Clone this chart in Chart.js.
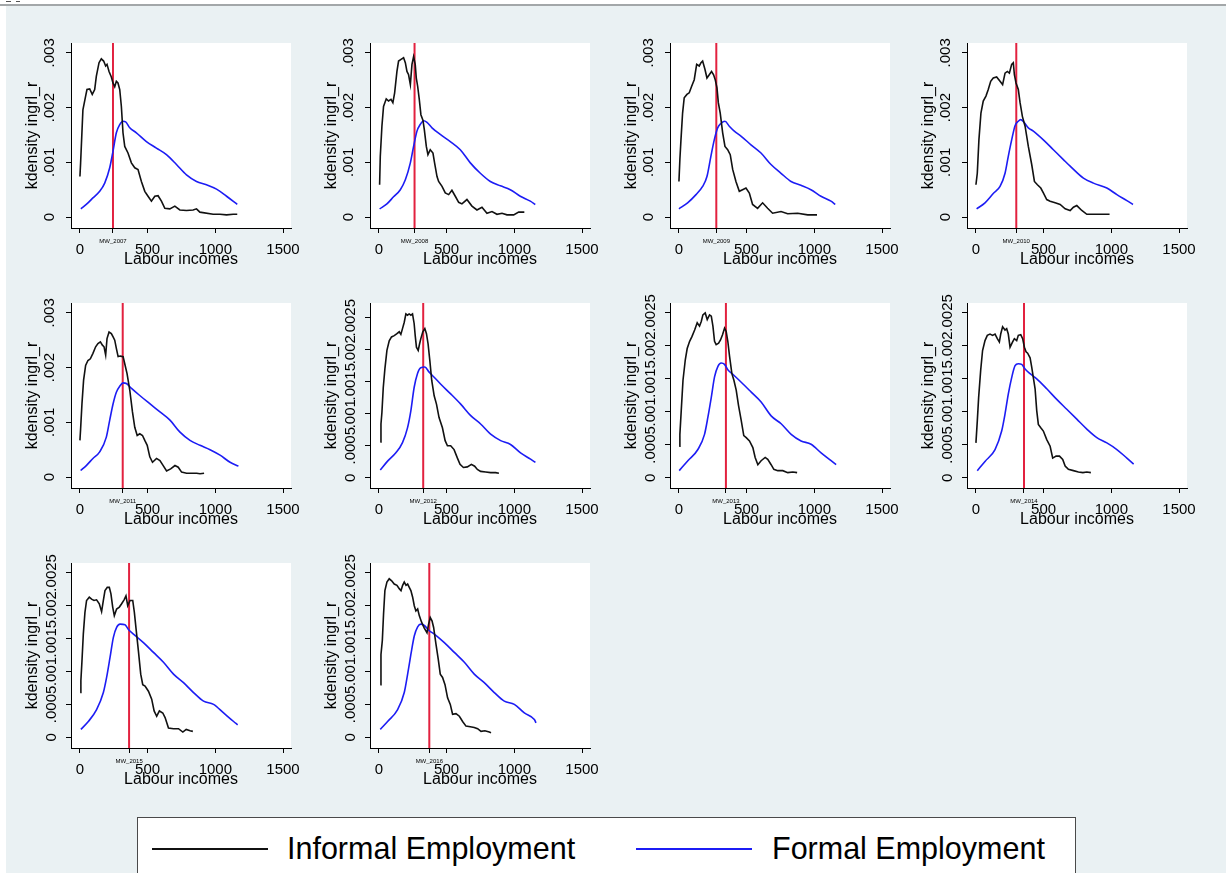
<!DOCTYPE html>
<html>
<head>
<meta charset="utf-8">
<title>Labour income densities by year</title>
<script src="https://cdn.jsdelivr.net/npm/chart.js@4.4.1/dist/chart.umd.min.js"></script>
<style>
  html, body { margin: 0; padding: 0; width: 1226px; height: 873px; overflow: hidden; background: #ffffff; }
  body { position: relative; font-family: "Liberation Sans", Arial, sans-serif; }
  #sheet { position: absolute; left: 6px; top: 6px; width: 1220px; height: 867px; background: #eaf1f3; }
  #rule { position: absolute; left: 0; top: 4px; width: 1226px; height: 2px; background: #a3a7a9; }
  .nick { position: absolute; top: 1px; height: 1px; background: #555; }
  .panel { position: absolute; }
  .panel canvas { display: block; }
  #legend { position: absolute; left: 137px; top: 817px; width: 937px; height: 80px; background: #ffffff; border: 1px solid #4a4a4a; }
  .key { position: absolute; top: 30px; width: 116px; height: 1.5px; }
  .keytext { position: absolute; top: 15px; font-size: 30.5px; line-height: 30px; color: #000; white-space: nowrap; }
</style>
</head>
<body>
<div id="sheet"></div>
<div id="rule"></div>
<div class="nick" style="left:6px;width:5px"></div>
<div class="nick" style="left:16px;width:4px"></div>
<div id="legend">
  <div class="key" style="left:14px;background:#111"></div>
  <div class="keytext" style="left:149px">Informal Employment</div>
  <div class="key" style="left:498px;background:#1c1cf4"></div>
  <div class="keytext" style="left:634px">Formal Employment</div>
</div>
<script>
// ---- survey years and minimum wage reference (real terms) ----
const years = ["2007", "2008", "2009", "2010", "2011", "2012", "2013", "2014", "2015", "2016"];
const minWage = [244, 263, 276, 298, 316, 327, 347, 355, 363, 372];

// ---- axis ticks ----
const xTickValues = [0, 500, 1000, 1500];
const xTickLabels = ["0", "500", "1000", "1500"];
const yTickValuesCoarse = [0, 0.001, 0.002, 0.003];
const yTickLabelsCoarse = ["0", ".001", ".002", ".003"];
const yTickValuesFine = [0, 0.0005, 0.001, 0.0015, 0.002, 0.0025];
const yTickLabelsFine = ["0", ".0005", ".001", ".0015", ".002", ".0025"];

// ---- kernel density estimates, [income, density] ----
const informal2007 = [[0,.00074],[5,.00099],[22,.00196],[42,.00221],[52,.00233],[72,.00234],[91,.00224],[109,.00233],[121,.00257],[141,.00282],[158,.00289],[175,.00285],[190,.00276],[200,.00279],[215,.00266],[232,.00256],[244,.00245],[257,.00238],[269,.00248],[281,.00245],[294,.00233],[306,.00202],[318,.00154],[331,.00129],[355,.00117],[380,.00099],[405,.0009],[429,.00087],[454,.00065],[479,.00047],[503,.00038],[528,.00029],[553,.00038],[577,.00039],[602,.00029],[627,.00016],[664,.00015],[701,.0002],[738,.00013],[787,.00012],[836,.00013],[861,.00015],[886,.00009],[984,.00005],[1034,.00005],[1083,.00004],[1132,.00005],[1162,.00005]];
const formal2007 = [[7,.00015],[47,.00023],[96,.00035],[146,.00047],[183,.00062],[220,.0009],[244,.0012],[269,.00154],[294,.00169],[318,.00175],[338,.00174],[368,.00163],[417,.00154],[491,.00138],[565,.00126],[639,.00114],[713,.00096],[787,.00077],[861,.00065],[935,.00059],[1009,.00051],[1083,.00038],[1162,.00023]];

const informal2008 = [[5,.00059],[10,.00111],[22,.00166],[34,.00202],[54,.00216],[71,.00212],[89,.00215],[103,.00209],[116,.00227],[133,.00266],[145,.00285],[163,.00288],[182,.00291],[195,.00282],[207,.00266],[219,.0026],[232,.00242],[244,.00279],[256,.00293],[268,.00279],[276,.00254],[286,.00239],[298,.00215],[310,.00187],[325,.00177],[335,.0016],[350,.00129],[362,.00114],[379,.00123],[399,.00117],[411,.00099],[429,.00074],[441,.00065],[466,.00056],[490,.00044],[515,.00041],[539,.00049],[564,.00038],[589,.00027],[613,.00024],[650,.00032],[687,.0002],[724,.00013],[761,.00018],[798,.00007],[835,.0001],[872,.00005],[909,.00007],[946,.00004],[995,.00004],[1032,.00009],[1074,.00009]];
const formal2008 = [[5,.00015],[59,.00024],[108,.00037],[158,.0005],[195,.00068],[232,.00099],[256,.00129],[281,.00157],[305,.00169],[330,.00176],[355,.00173],[392,.00163],[453,.00151],[527,.00138],[601,.00123],[675,.00099],[749,.0008],[823,.00065],[897,.00057],[970,.0005],[1044,.00038],[1118,.00029],[1155,.00023]];

const informal2009 = [[0,.00065],[7,.00105],[15,.00141],[27,.0019],[39,.00218],[59,.00224],[76,.00227],[94,.00239],[113,.00251],[131,.00279],[150,.00276],[163,.00282],[175,.00285],[192,.0027],[207,.00254],[224,.0026],[241,.00266],[256,.0026],[268,.00251],[281,.00236],[291,.00209],[305,.0019],[323,.00154],[340,.00129],[360,.00123],[379,.00114],[397,.00087],[421,.00065],[446,.00047],[470,.0005],[495,.00053],[520,.00044],[544,.00023],[581,.00016],[618,.00026],[655,.00016],[692,.00007],[754,.0001],[803,.00006],[877,.00007],[951,.00004],[1020,.00004]];
const formal2009 = [[0,.00015],[64,.00026],[126,.00041],[175,.00056],[207,.00074],[236,.00111],[261,.00141],[286,.00163],[310,.00171],[340,.00175],[372,.00166],[409,.00157],[458,.00148],[532,.00132],[606,.00117],[680,.00096],[754,.0008],[828,.00065],[901,.00058],[975,.0005],[1049,.00038],[1123,.00029],[1155,.00023]];

const informal2010 = [[0,.00059],[10,.0008],[22,.00141],[37,.0019],[54,.00212],[74,.00221],[91,.00233],[109,.00248],[128,.00254],[153,.00256],[178,.00248],[197,.00242],[215,.00263],[232,.00266],[247,.00263],[264,.00279],[276,.00282],[284,.0026],[296,.00245],[313,.00233],[326,.00209],[343,.00184],[363,.00166],[387,.00129],[412,.00096],[432,.00065],[454,.00059],[479,.00053],[498,.00044],[523,.00032],[548,.00029],[585,.00026],[622,.00023],[659,.00015],[696,.00012],[720,.00018],[745,.00021],[782,.00012],[819,.00005],[893,.00005],[987,.00005]];
const formal2010 = [[5,.00015],[67,.00026],[128,.00043],[178,.00056],[215,.0008],[239,.00111],[264,.00141],[289,.00167],[313,.00175],[331,.00178],[355,.00173],[387,.00163],[424,.00157],[498,.00141],[572,.00123],[646,.00105],[696,.00093],[794,.00071],[868,.00062],[967,.00053],[1041,.00041],[1115,.0003],[1160,.00023]];

const informal2011 = [[0,.00067],[5,.00088],[15,.00134],[27,.00177],[42,.00204],[59,.00213],[77,.00216],[96,.00226],[116,.00238],[133,.00244],[151,.00247],[166,.00241],[178,.00238],[190,.00223],[200,.00253],[215,.00265],[232,.00262],[245,.00256],[257,.0025],[269,.00235],[282,.0022],[299,.00221],[319,.0022],[331,.00207],[348,.00189],[368,.00159],[388,.00119],[405,.00091],[423,.00076],[442,.00079],[462,.00076],[479,.00067],[497,.00058],[516,.00037],[536,.00027],[566,.00034],[591,.0003],[615,.00021],[640,.00011],[670,.00015],[702,.00021],[726,.00018],[751,.00009],[788,.00007],[862,.00007],[887,.00006],[917,.00007]];
const formal2011 = [[5,.00012],[47,.00021],[96,.00034],[146,.00046],[195,.00073],[220,.00104],[245,.00134],[269,.00155],[294,.00166],[319,.00172],[343,.00171],[381,.00162],[442,.00149],[516,.00134],[591,.00119],[665,.00104],[739,.00082],[813,.00067],[887,.00058],[961,.0005],[1035,.0004],[1109,.00027],[1171,.0002]];

const informal2012 = [[10,.00056],[15,.00084],[22,.00102],[32,.00141],[44,.0017],[59,.00199],[76,.00214],[93,.0022],[113,.00222],[133,.00225],[150,.00228],[162,.00224],[174,.00233],[187,.00243],[199,.00256],[211,.00254],[223,.00256],[236,.00254],[248,.00256],[260,.00241],[268,.00222],[277,.00204],[290,.00199],[300,.00209],[309,.00217],[324,.00228],[339,.00233],[351,.00225],[363,.00209],[376,.00183],[390,.00152],[408,.00128],[425,.00115],[444,.00094],[469,.00078],[489,.00058],[506,.0005],[530,.0005],[555,.00044],[579,.00031],[599,.00021],[624,.00016],[653,.00017],[683,.00021],[707,.00018],[727,.00013],[751,.0001],[788,.00009],[825,.00008],[862,.00008],[886,.00007]];
const formal2012 = [[10,.00012],[64,.00026],[125,.00039],[174,.00055],[211,.00078],[236,.00105],[260,.00141],[285,.00163],[309,.00172],[339,.00173],[371,.00165],[408,.00157],[457,.00146],[530,.00131],[604,.00115],[678,.00097],[751,.00084],[825,.00068],[899,.00058],[972,.00052],[1046,.00039],[1120,.00029],[1156,.00024]];

const informal2013 = [[2,.00048],[7,.00066],[17,.00102],[30,.00148],[47,.00179],[61,.00196],[79,.00207],[96,.00214],[116,.00224],[135,.00235],[152,.0023],[165,.00237],[177,.00247],[194,.0025],[209,.0024],[226,.00247],[239,.00245],[251,.0023],[263,.00207],[275,.00202],[293,.00204],[307,.00209],[322,.00217],[337,.00227],[349,.00222],[361,.00207],[374,.00184],[391,.00158],[406,.00148],[423,.00133],[440,.0011],[460,.00087],[479,.00064],[497,.00061],[521,.00056],[546,.00046],[563,.00031],[583,.0002],[607,.00026],[637,.00031],[656,.00028],[681,.0002],[701,.00013],[730,.00011],[767,.00011],[804,.00008],[841,.00009],[873,.00008]];
const formal2013 = [[2,.00011],[66,.00026],[140,.00043],[189,.00066],[214,.00092],[239,.00122],[263,.00153],[288,.00169],[312,.00174],[337,.00172],[361,.00164],[398,.00157],[460,.00145],[534,.0013],[607,.00115],[681,.00094],[755,.00082],[829,.00066],[902,.00056],[976,.00051],[1050,.00038],[1124,.00026],[1161,.0002]];

const informal2014 = [[0,.00053],[10,.00086],[20,.00122],[35,.00163],[49,.00193],[67,.00208],[84,.00216],[104,.00218],[123,.00216],[141,.00218],[158,.00211],[173,.00206],[183,.00218],[197,.00229],[215,.00224],[227,.00226],[239,.00218],[252,.00198],[271,.00206],[284,.00211],[301,.00208],[313,.00216],[331,.00217],[345,.00211],[358,.00198],[370,.00191],[382,.00189],[400,.00182],[412,.00168],[424,.00152],[437,.00135],[449,.00102],[461,.00081],[479,.00076],[498,.00071],[523,.00058],[548,.00048],[567,.0003],[592,.00033],[617,.00033],[641,.00028],[659,.00018],[683,.00013],[720,.00011],[757,.00009],[790,.00008],[819,.00009],[849,.00008]];
const formal2014 = [[10,.00011],[67,.00025],[141,.00043],[190,.00071],[215,.00097],[239,.00127],[264,.00152],[289,.0017],[313,.00173],[338,.00172],[363,.00165],[400,.00158],[449,.0015],[523,.00135],[597,.00119],[671,.00104],[745,.00089],[819,.00074],[893,.00061],[967,.00053],[1041,.00043],[1115,.0003],[1165,.00021]];

const informal2015 = [[2,.00068],[7,.00086],[15,.00116],[25,.00157],[37,.0019],[49,.00208],[69,.00213],[86,.0021],[104,.00208],[123,.00209],[143,.00203],[160,.00191],[173,.00208],[185,.00223],[202,.00228],[217,.00228],[229,.00218],[242,.00198],[254,.00185],[271,.00195],[291,.00198],[308,.00203],[326,.00209],[340,.00215],[353,.002],[370,.00208],[390,.00208],[402,.0019],[415,.00164],[432,.00131],[449,.00096],[464,.0008],[481,.00078],[506,.0007],[530,.00058],[548,.0004],[567,.00032],[587,.0004],[612,.00037],[629,.0003],[654,.00014],[691,.00013],[728,.00013],[760,.00008],[785,.00012],[814,.0001],[834,.00009]];
const formal2015 = [[7,.00012],[62,.00024],[123,.00042],[173,.00068],[197,.00091],[222,.00121],[247,.00152],[271,.00167],[296,.00172],[333,.00171],[358,.00164],[395,.00157],[469,.00144],[543,.00129],[617,.00114],[691,.00096],[765,.00083],[839,.00068],[913,.00055],[987,.0005],[1061,.00037],[1135,.00024],[1165,.00019]];

const informal2016 = [[10,.0008],[15,.00126],[25,.00147],[34,.00187],[44,.00223],[59,.00236],[76,.00241],[94,.00238],[113,.00233],[133,.00231],[150,.00226],[163,.00223],[175,.00231],[187,.00236],[200,.00231],[212,.00233],[224,.00228],[236,.00223],[249,.00213],[261,.002],[273,.00192],[286,.00195],[298,.00185],[315,.00175],[335,.00166],[355,.00159],[367,.00172],[379,.00182],[392,.00177],[404,.00167],[421,.00142],[438,.00119],[453,.00096],[470,.00091],[488,.0008],[507,.0006],[527,.0005],[544,.00035],[569,.00036],[594,.00032],[618,.00024],[643,.00017],[675,.00016],[704,.00015],[729,.00013],[754,.00009],[783,.0001],[815,.00008],[828,.00007]];
const formal2016 = [[10,.00012],[64,.00024],[138,.00042],[187,.00068],[212,.00096],[236,.00126],[261,.00154],[286,.00168],[310,.00172],[335,.0017],[372,.00162],[409,.00157],[483,.00144],[557,.00129],[631,.00114],[704,.00096],[778,.00083],[852,.00068],[926,.00055],[1000,.0005],[1074,.00037],[1148,.00027],[1160,.00022]];

// ---- axis ranges per panel ----
const xMin = -66, xMax = 1559;
const yMin = [-0.0002, -0.0002, -0.0002, -0.0002, -0.0002, -0.00016, -0.000153, -0.000153, -0.000163, -0.000163];
const yMax = [0.00318, 0.00318, 0.00318, 0.00318, 0.00318, 0.00273, 0.00265, 0.00265, 0.00265, 0.00265];
const fineTicks = [false, false, false, false, false, true, true, true, true, true];

const informalSeries = [informal2007, informal2008, informal2009, informal2010, informal2011,
                        informal2012, informal2013, informal2014, informal2015, informal2016];
const formalSeries = [formal2007, formal2008, formal2009, formal2010, formal2011,
                      formal2012, formal2013, formal2014, formal2015, formal2016];

// ---- grid geometry ----
const colLeft = [71, 370, 670, 967];
const rowTop = [43, 303, 563];
const plotW = 220, plotH = 185;
const axisW = 71, topPad = 43, rightPad = 22, bottomH = 50;
const canvasW = axisW + plotW + rightPad;
const canvasH = topPad + plotH + bottomH;

const FONT = '"Liberation Sans", Arial, sans-serif';
const INK = '#000000';
const INFORMAL_COLOR = '#111111';
const FORMAL_COLOR = '#1c1cf4';
const MW_COLOR = '#e2213f';

// white plot region behind the curves
const plotRegion = {
  id: 'plotRegion',
  beforeDraw(chart) {
    const { ctx, chartArea: a } = chart;
    ctx.save();
    ctx.fillStyle = '#ffffff';
    ctx.fillRect(a.left, a.top, a.right - a.left, a.bottom - a.top);
    ctx.restore();
  }
};

function buildPanel(i) {
  const col = i % 4, row = Math.floor(i / 4);
  const wrap = document.createElement('div');
  wrap.className = 'panel';
  wrap.style.left = (colLeft[col] - axisW) + 'px';
  wrap.style.top = (rowTop[row] - topPad) + 'px';
  const canvas = document.createElement('canvas');
  canvas.width = canvasW;
  canvas.height = canvasH;
  canvas.style.width = canvasW + 'px';
  canvas.style.height = canvasH + 'px';
  wrap.appendChild(canvas);
  document.body.appendChild(wrap);

  const mw = minWage[i];
  const mwLabel = 'MW_' + years[i];
  const yVals = fineTicks[i] ? yTickValuesFine : yTickValuesCoarse;
  const yLabs = fineTicks[i] ? yTickLabelsFine : yTickLabelsCoarse;

  new Chart(canvas, {
    type: 'line',
    data: {
      datasets: [
        { label: 'Informal Employment', data: informalSeries[i], borderColor: INFORMAL_COLOR,
          borderWidth: 1.6, pointRadius: 0, tension: 0, fill: false },
        { label: 'Formal Employment', data: formalSeries[i], borderColor: FORMAL_COLOR,
          borderWidth: 1.6, pointRadius: 0, cubicInterpolationMode: 'monotone', fill: false },
        { label: mwLabel, data: [[mw, yMin[i]], [mw, yMax[i]]], borderColor: MW_COLOR,
          borderWidth: 2, pointRadius: 0, fill: false }
      ]
    },
    options: {
      responsive: false,
      animation: false,
      devicePixelRatio: 1,
      events: [],
      layout: { padding: { left: 0, top: topPad, right: rightPad, bottom: 0 } },
      plugins: { legend: { display: false }, tooltip: { enabled: false } },
      scales: {
        x: {
          type: 'linear', min: xMin, max: xMax, offset: false,
          afterFit(scale) { scale.height = bottomH; },
          afterBuildTicks(scale) {
            scale.ticks = [xTickValues[0], mw].concat(xTickValues.slice(1)).map(v => ({ value: v }));
          },
          ticks: {
            autoSkip: false, minRotation: 0, maxRotation: 0, padding: 8, color: INK,
            // the minimum-wage marker sits a little higher than the numeric labels
            font: (ctx) => (ctx.tick && ctx.tick.value === mw)
              ? { family: FONT, size: 6, lineHeight: 0.1 } : { family: FONT, size: 15, lineHeight: 1.2 },
            callback: (v) => v === mw ? mwLabel : xTickLabels[xTickValues.indexOf(v)]
          },
          grid: { display: true, drawOnChartArea: false, drawTicks: true, tickLength: 5, color: INK },
          border: { display: true, color: INK, width: 1 },
          title: { display: true, text: 'Labour incomes', color: INK,
                   font: { family: FONT, size: 16 }, padding: { top: 0, bottom: canvasH - 269 } }
        },
        y: {
          type: 'linear', min: yMin[i], max: yMax[i],
          afterFit(scale) { scale.width = axisW; },
          afterBuildTicks(scale) { scale.ticks = yVals.map(v => ({ value: v })); },
          ticks: {
            autoSkip: false, minRotation: 90, maxRotation: 90, crossAlign: 'center',
            padding: fineTicks[i] ? -4.2 : 1.4, color: INK,
            font: { family: FONT, size: 15 },
            callback: (v) => yLabs[yVals.indexOf(v)]
          },
          grid: { display: true, drawOnChartArea: false, drawTicks: true, tickLength: 5, color: INK },
          border: { display: true, color: INK, width: 1 },
          title: { display: true, text: 'kdensity ingrl_r', color: INK,
                   font: { family: FONT, size: 16 }, padding: { top: 23.4, bottom: 0 } }
        }
      }
    },
    plugins: [plotRegion]
  });
}

for (let i = 0; i < years.length; i++) buildPanel(i);
</script>
</body>
</html>
